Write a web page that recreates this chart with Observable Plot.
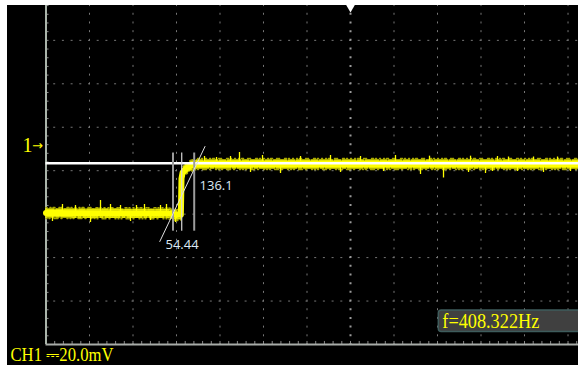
<!DOCTYPE html>
<html><head><meta charset="utf-8">
<script src="https://cdn.jsdelivr.net/npm/d3@7"></script>
<script src="https://cdn.jsdelivr.net/npm/@observablehq/plot@0.6"></script>
<style>
html,body{margin:0;padding:0;background:#fff;width:578px;height:365px;overflow:hidden}
#screen{position:absolute;left:7px;top:5px;width:571px;height:360px;background:#000;overflow:hidden}
#screen svg{display:block}
</style></head><body><div id="screen"></div>
<script>
// ---- data (time and voltage in screen divisions; CH1 = 20.0 mV/div) ----
const traceT = [0, 2.80, 3.00, 3.10, 3.115, 3.14, 3.21, 3.32, 3.46, 12.4];
const traceV = [3.026, 3.02, 2.98, 2.99, 3.82, 3.96, 4.04, 4.11, 4.154, 4.154];
const lowLevel = 3.026, highLevel = 4.154;

const spikeT = [0.379, 0.678, 1.253, 1.483, 1.713, 2.080, 2.264, 2.632, 2.770,
                0.149, 1.023, 1.943, 2.402, 2.977,
                3.644, 3.920, 4.241, 4.448, 4.977, 5.851, 6.540, 7.230, 8.034, 8.816, 9.759, 10.379, 10.632, 11.207, 11.759,
                4.701, 5.391, 6.770, 7.759, 8.609, 9.138, 9.713, 10.103, 10.264, 10.839, 11.437, 12.057];
const spikeV = [3.222, 3.199, 3.314, 3.222, 3.199, 3.199, 3.222, 3.199, 3.222,
                2.831, 2.808, 2.831, 2.854, 2.808,
                4.327, 4.304, 4.327, 4.419, 4.350, 4.327, 4.350, 4.327, 4.350, 4.334, 4.334, 4.327, 4.315, 4.315, 4.315,
                3.959, 3.936, 3.959, 3.982, 3.913, 3.832, 3.959, 3.936, 3.982, 3.982, 3.959, 3.982];

const refLevel = 4.173;
const cursorT = [2.920, 3.120, 3.407];
const cursorV = [2.608, 4.407];
const riseT = [2.616, 3.655];
const riseV = [2.371, 4.557];
const readoutText = ["136.1", "54.44"];
const readoutT = [3.529, 2.747];
const readoutV = [3.659, 2.290];
const channelMark = ["1", "→"];
const channelT = [-0.54, -0.07];
const channelV = 4.58;
const freqText = "f=408.322Hz";
const freqT = 9.11, freqV = 0.532;
const freqBoxT = [9.03, 12.6], freqBoxV = [0.288, 0.782];
const scaleText = "CH1 ⎓20.0mV";
const scaleT = -0.816, scaleV = -0.239;
const triggerT = 7;
const xMajor = [1, 2, 3, 4, 5, 6, 7, 8, 9, 10, 11, 12];
const yMajor = [1, 2, 3, 4, 5, 6, 7];

// ---- derived tables ----
const X_MAX = 12.241, Y_MAX = 7.802;
const trace = traceT.map((t, i) => ({t, v: traceV[i]}));
const spikes = spikeT.map((t, i) => ({t, v: spikeV[i], base: t < 3.1 ? lowLevel : highLevel}));
const readouts = readoutText.map((s, i) => ({s, t: readoutT[i], v: readoutV[i]}));
const xMinor = d3.range(0.2, X_MAX, 0.2);
const yMinor = d3.range(0.2, Y_MAX, 0.2);
const serif = "'Liberation Serif','DejaVu Serif',serif";
const YEL = "#ffff00";

const fuzz = (dy, w, color, dash) =>
  Plot.line(trace, {x: "t", y: "v", dy, stroke: color, strokeWidth: w, strokeDasharray: dash});

const chart = Plot.plot({
  width: 571, height: 360,
  marginLeft: 38.5, marginRight: 0, marginTop: 0, marginBottom: 21,
  x: {domain: [0, X_MAX], axis: null},
  y: {domain: [0, Y_MAX], axis: null},
  style: {background: "#000", overflow: "hidden"},
  marks: [
    // dotted graticule
    Plot.ruleY(yMajor, {y: d => d, x1: 0, x2: X_MAX, stroke: "#777", strokeWidth: 1, strokeDasharray: "2 6.7", strokeDashoffset: 1}),
    Plot.ruleX(xMajor.filter(d => d !== triggerT), {x: d => d, y1: 0, y2: Y_MAX, stroke: "#777", strokeWidth: 1, strokeDasharray: "2 6.69", strokeDashoffset: 1}),
    Plot.ruleX([triggerT], {x: d => d, y1: 0, y2: Y_MAX, stroke: "#9a9a9a", strokeWidth: 2, strokeDasharray: "2 6.69", strokeDashoffset: 1}),
    // axis frame and ticks
    Plot.ruleX(xMinor, {x: d => d, y1: 0, y2: 0.07, stroke: "#8a8a8a", strokeWidth: 1}),
    Plot.ruleY(yMinor, {y: d => d, x1: 0, x2: 0.07, stroke: "#8a8a8a", strokeWidth: 1}),
    Plot.ruleY([0], {x1: 0, x2: X_MAX, stroke: "#a8aca8", strokeWidth: 2}),
    Plot.ruleX([0], {y1: 0, y2: Y_MAX, stroke: "#aab4aa", strokeWidth: 2}),
    // trace: noisy envelope, core, spikes
    fuzz(-5.5, 1.5, "#a8a800", "1 3 1 2 2 4 1 1 1 5 2 2 1 3"),
    fuzz(5.5, 1.5, "#a8a800", "1 2 1 4 2 1 1 3 1 5 1 2"),
    fuzz(-3.8, 2, "#e6e600", "2 1 1 1 3 2 1 1 2 1 1 2 4 1"),
    fuzz(3.8, 2, "#e6e600", "1 1 3 1 2 2 1 1 1 2 3 1 2 1"),
    Plot.line(trace, {x: "t", y: "v", stroke: YEL, strokeWidth: 6, strokeLinejoin: "round"}),
    Plot.ruleX(spikes, {x: "t", y1: "base", y2: "v", stroke: YEL, strokeWidth: 1.3}),
    // reference level
    Plot.ruleY([refLevel], {y: d => d, x1: 0, x2: X_MAX, stroke: "#ffffff", strokeWidth: 2.6}),
    // rise-time cursors
    Plot.ruleX([cursorT[0], cursorT[2]], {x: d => d, y1: cursorV[0], y2: cursorV[1], stroke: "#9c9c9c", strokeWidth: 2}),
    Plot.ruleX([cursorT[1]], {x: d => d, y1: cursorV[0], y2: cursorV[1], stroke: "#d8d8d8", strokeWidth: 1.2}),
    Plot.line(riseT.map((t, i) => ({t, v: riseV[i]})), {x: "t", y: "v", stroke: "#e0e0e0", strokeWidth: 1}),
    Plot.text(readouts, {x: "t", y: "v", text: "s", textAnchor: "start", lineAnchor: "middle", fill: "#dce8f4", fontSize: 13, fontFamily: "'Open Sans',sans-serif"}),
    // channel marker
    Plot.text([channelMark[0]], {x: channelT[0], y: channelV, text: d => d, textAnchor: "start", lineAnchor: "middle", fill: YEL, fontSize: 20, fontFamily: serif}),
    Plot.text([channelMark[1]], {x: channelT[1], y: channelV, text: d => d, textAnchor: "end", lineAnchor: "middle", fill: YEL, fontSize: 13, fontFamily: "'DejaVu Sans',sans-serif"}),
    // trigger position marker
    Plot.dot([triggerT], {x: d => d, y: Y_MAX, symbol: "triangle", r: 4.5, fill: "#fff", rotate: 180}),
    // frequency readout
    Plot.rect([0], {x1: freqBoxT[0], x2: freqBoxT[1], y1: freqBoxV[0], y2: freqBoxV[1], fill: "#404040", stroke: "#3e5c5c", strokeWidth: 1.5, rx: 3}),
    Plot.text([freqText], {x: freqT, y: freqV, text: d => d, textAnchor: "start", lineAnchor: "middle", fill: YEL, fontSize: 20, fontFamily: serif}),
    // volts/div readout
    Plot.text([scaleText], {x: scaleT, y: scaleV, text: d => d, textAnchor: "start", lineAnchor: "middle", fill: YEL, fontSize: 19, fontFamily: serif})
  ]
});
document.getElementById("screen").appendChild(chart);
d3.select(chart).selectAll("text").each(function() {
  const s = this.textContent;
  const fit = (w) => { this.setAttribute("textLength", w); this.setAttribute("lengthAdjust", "spacingAndGlyphs"); };
  if (s === freqText) fit(97);
  if (s === scaleText) fit(103);
});
</script></body></html>
